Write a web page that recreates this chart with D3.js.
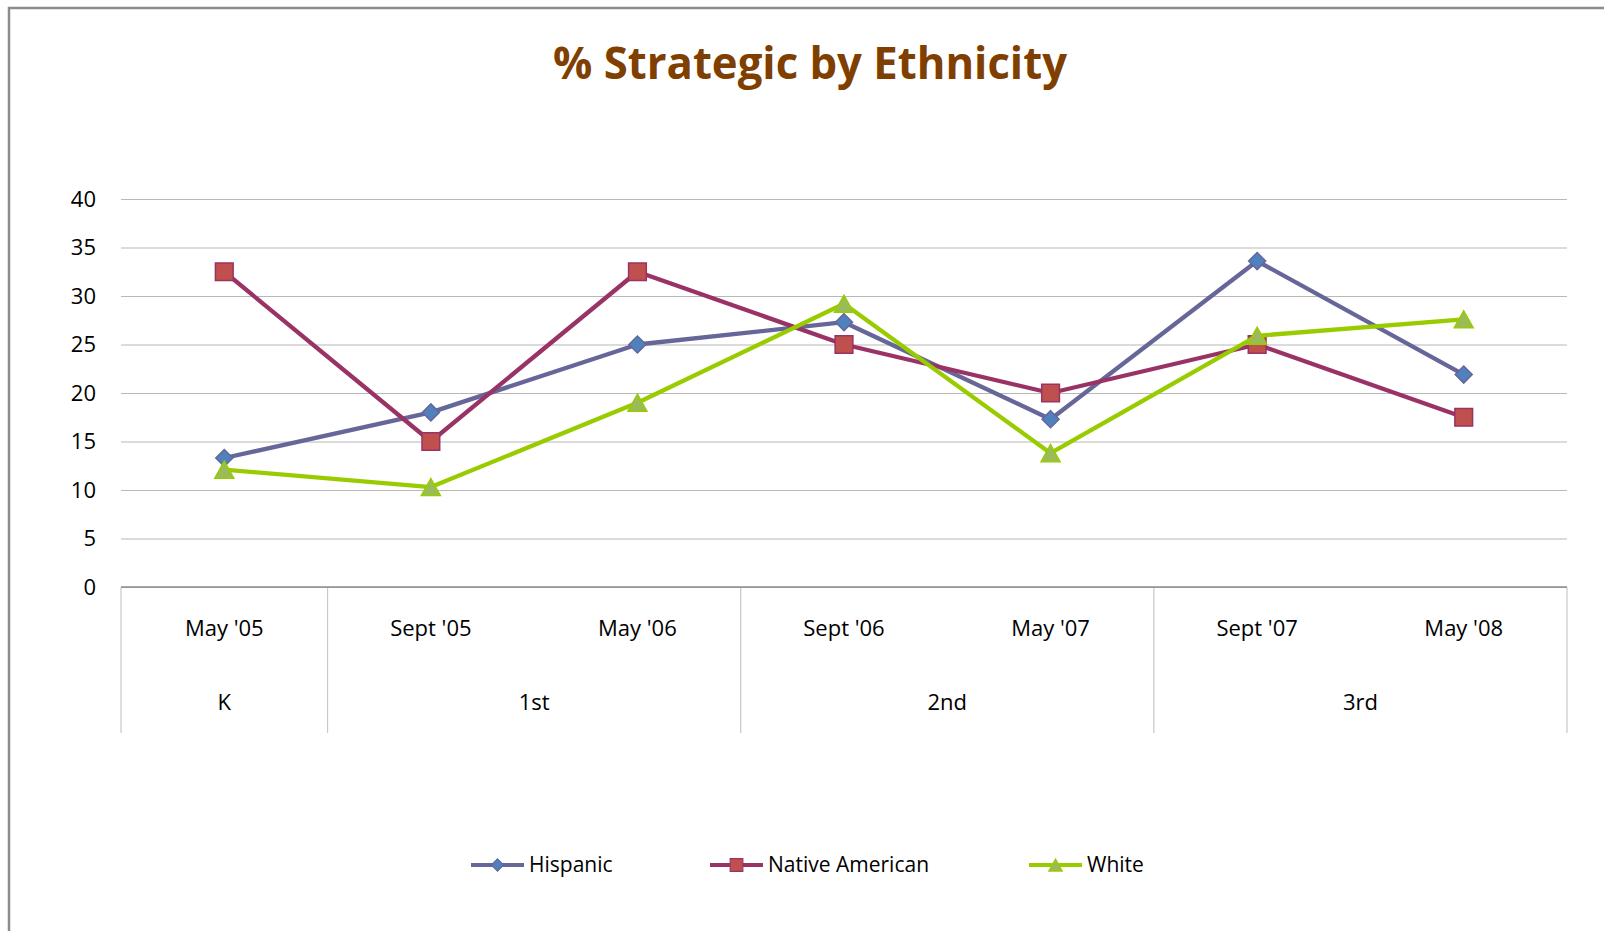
<!DOCTYPE html>
<html>
<head>
<meta charset="utf-8">
<title>% Strategic by Ethnicity</title>
<script src="https://cdn.jsdelivr.net/npm/d3@7/dist/d3.min.js"></script>
<style>
  html, body { margin: 0; padding: 0; background: #fff; }
  svg { display: block; font-family: "Open Sans", "Noto Sans", sans-serif; }
</style>
</head>
<body>
<div id="chart"></div>
<script>
'use strict';

// data
const months = ["May '05", "Sept '05", "May '06", "Sept '06", "May '07", "Sept '07", "May '08"];
const grades = ['K', '1st', '2nd', '3rd'];
const gradeSpans = [1, 2, 2, 2]; // how many months sit under each grade
const hispanic = [13.3, 18, 25, 27.3, 17.3, 33.6, 21.9];
const nativeAmerican = [32.5, 15, 32.5, 25, 20, 25, 17.5];
const white = [12.1, 10.3, 19, 29.2, 13.8, 25.9, 27.6];
const yTicks = [0, 5, 10, 15, 20, 25, 30, 35, 40];

const series = [
  { name: 'Hispanic', values: hispanic, line: '#666699', fill: '#4f81bd', marker: 'diamond' },
  { name: 'Native American', values: nativeAmerican, line: '#993366', fill: '#c0504d', marker: 'square' },
  { name: 'White', values: white, line: '#99cc00', fill: '#9bbb59', marker: 'triangle' },
];

const WIDTH = 1604;
const HEIGHT = 931;
const plot = { left: 121, right: 1567, top: 199, bottom: 587 };

const svg = d3.select('#chart').append('svg')
    .attr('width', WIDTH)
    .attr('height', HEIGHT);

// chart frame
svg.append('rect')
    .attr('x', 9).attr('y', 8)
    .attr('width', WIDTH + 20).attr('height', HEIGHT + 20)
    .attr('fill', '#fff')
    .attr('stroke', '#8c8c8c')
    .attr('stroke-width', 2.5);

svg.append('text')
    .attr('x', 810).attr('y', 79)
    .attr('text-anchor', 'middle')
    .attr('textLength', 514)
    .attr('lengthAdjust', 'spacingAndGlyphs')
    .style('font-size', '44px')
    .style('font-weight', 'bold')
    .style('fill', '#7f3f00')
    .text('% Strategic by Ethnicity');

const x = d3.scaleBand()
    .domain(months)
    .range([plot.left, plot.right])
    .padding(0);

const y = d3.scaleLinear()
    .domain([0, 40])
    .range([plot.bottom, plot.top]);

const cx = (m) => x(m) + x.bandwidth() / 2;

// Excel centres its markers on the bounding box, so the triangle is drawn by hand
function markerSymbol(kind) {
  if (kind === 'diamond') return d3.symbol(d3.symbolDiamond2, 185)();
  if (kind === 'square') return d3.symbol(d3.symbolSquare2, 400)();
  const w = 19, h = 17;
  return 'M0,' + (-h / 2) + 'L' + (w / 2) + ',' + (h / 2) + 'L' + (-w / 2) + ',' + (h / 2) + 'Z';
} // markerSymbol

/**
 * Value axis: gridlines plus labels on the left.
 */
function drawValueAxis() {
  const yAxis = d3.axisLeft(y)
      .tickValues(yTicks)
      .tickSize(-(plot.right - plot.left))
      .tickPadding(25)
      .tickFormat(d3.format('d'));

  const g = svg.append('g')
      .attr('transform', 'translate(' + plot.left + ',0)')
      .call(yAxis);

  g.select('.domain').remove();
  g.selectAll('.tick line')
      .attr('stroke', '#b8b8b8')
      .attr('stroke-width', 1.2);
  g.selectAll('.tick text')
      .style('font-size', '22px')
      .style('fill', '#000')
      .style('font-family', '"Open Sans", sans-serif');
} // drawValueAxis

/**
 * Two-level category axis: months on top, grade groups below.
 */
function drawCategoryAxis() {
  const g = svg.append('g');
  const axisBottom = 733;

  // group dividers
  let start = 0;
  const bounds = [0];
  gradeSpans.forEach((span) => { start += span; bounds.push(start); });

  g.selectAll('line.divider')
      .data(bounds)
    .enter().append('line')
      .attr('class', 'divider')
      .attr('x1', (i) => plot.left + i * x.bandwidth())
      .attr('x2', (i) => plot.left + i * x.bandwidth())
      .attr('y1', plot.bottom)
      .attr('y2', axisBottom)
      .attr('stroke', '#c8c8c8')
      .attr('stroke-width', 1.2);

  g.append('line')
      .attr('x1', plot.left).attr('x2', plot.right)
      .attr('y1', plot.bottom).attr('y2', plot.bottom)
      .attr('stroke', '#8c8c8c')
      .attr('stroke-width', 1.5);

  g.selectAll('text.month')
      .data(months)
    .enter().append('text')
      .attr('class', 'month')
      .attr('x', cx)
      .attr('y', 628)
      .attr('dy', '0.35em')
      .attr('text-anchor', 'middle')
      .style('font-size', '22px')
      .text((d) => d);

  g.selectAll('text.grade')
      .data(grades)
    .enter().append('text')
      .attr('class', 'grade')
      .attr('x', (d, i) => plot.left + (bounds[i] + bounds[i + 1]) / 2 * x.bandwidth())
      .attr('y', 702)
      .attr('dy', '0.35em')
      .attr('text-anchor', 'middle')
      .style('font-size', '22px')
      .text((d) => d);
} // drawCategoryAxis

function drawSeries() {
  const line = d3.line()
      .x((d, i) => cx(months[i]))
      .y((d) => y(d));

  series.forEach((s) => {
    const g = svg.append('g').attr('class', 'series');

    g.append('path')
        .datum(s.values)
        .attr('d', line)
        .attr('fill', 'none')
        .attr('stroke', s.line)
        .attr('stroke-width', 4.3)
        .attr('stroke-linejoin', 'round');

    g.selectAll('path.marker')
        .data(s.values)
      .enter().append('path')
        .attr('class', 'marker')
        .attr('transform', (d, i) => 'translate(' + cx(months[i]) + ',' + y(d) + ')')
        .attr('d', markerSymbol(s.marker))
        .attr('fill', s.fill)
        .attr('stroke', s.line)
        .attr('stroke-width', 1.5);
  });
} // drawSeries

function drawLegend() {
  const legendY = 865;
  const items = [
    { lineX: 471, textX: 529 },
    { lineX: 710, textX: 768 },
    { lineX: 1029, textX: 1087 },
  ];

  series.forEach((s, i) => {
    const it = items[i];
    const g = svg.append('g');
    g.append('line')
        .attr('x1', it.lineX).attr('x2', it.lineX + 53)
        .attr('y1', legendY).attr('y2', legendY)
        .attr('stroke', s.line)
        .attr('stroke-width', 4);
    g.append('path')
        .attr('transform', 'translate(' + (it.lineX + 26.5) + ',' + legendY + ') scale(0.72)')
        .attr('d', markerSymbol(s.marker))
        .attr('fill', s.fill)
        .attr('stroke', s.line)
        .attr('stroke-width', 1.5);
    g.append('text')
        .attr('x', it.textX)
        .attr('y', legendY)
        .attr('dy', '0.35em')
        .style('font-size', '21px')
        .text(s.name);
  });
} // drawLegend

drawValueAxis();
drawCategoryAxis();
drawSeries();
drawLegend();
</script>
</body>
</html>
